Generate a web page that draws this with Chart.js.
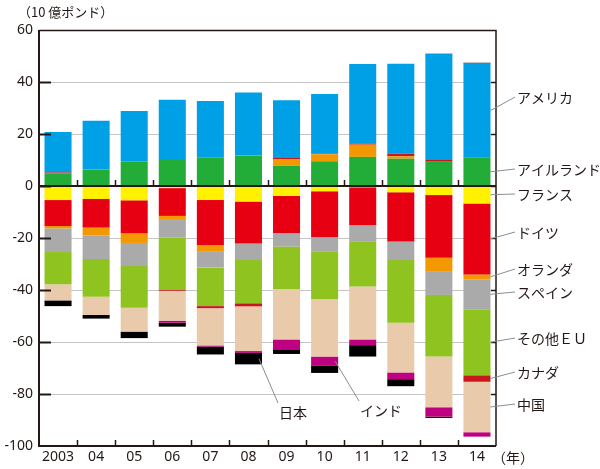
<!DOCTYPE html>
<html><head><meta charset="utf-8">
<script src="https://cdn.jsdelivr.net/npm/chart.js@4/dist/chart.umd.min.js"></script>
<style>html,body{margin:0;padding:0;background:#fff}#wrap{width:600px;height:469px;position:relative}</style>
</head><body><div id="wrap"><canvas id="c" width="600" height="469"></canvas></div>
<script>
const years = ['2003','04','05','06','07','08','09','10','11','12','13','14'];
const yTicks = [60,40,20,0,-20,-40,-60,-80,-100];
const ireland     = [4.9, 6.4, 9.3, 10.0, 11.0, 11.7, 7.8, 9.5, 11.2, 10.5, 9.6, 10.9];
const france      = [-5.4, -5.0, -5.5, -0.8, -5.4, -6.0, -3.8, -2.0, -0.5, -2.4, -3.5, -6.7];
const germany     = [-10.0, -11.0, -12.7, -10.7, -17.3, -16.1, -14.4, -17.7, -14.6, -18.9, -24.1, -27.3];
const netherlands = [-0.9, -3.0, -3.7, -1.2, -2.6, 0, 2.4, 2.7, 4.7, 0.9, -5.4, -1.9];
const spain       = [-9.1, -9.1, -8.9, -7.2, -6.0, -6.4, -5.1, -5.4, -6.4, -7.2, -8.9, -11.5];
const otherEU     = [-12.4, -14.5, -16.0, -20.1, -14.9, -16.6, -16.4, -18.5, -17.2, -24.1, -23.7, -25.4];
const canada      = [0.3, 0, 0, -0.3, -0.8, -1.2, 0.8, 0.2, 0.5, 1.0, 0.4, -2.5];
const china       = [-6.2, -7.0, -9.2, -11.5, -14.3, -17.2, -19.3, -22.0, -20.3, -19.1, -19.5, -19.4];
const india       = [0, 0, 0, -0.8, -0.5, -0.7, -3.8, -3.6, -2.2, -2.6, -3.6, -1.7];
const america     = [15.6, 18.7, 19.5, 23.2, 21.7, 24.3, 22.0, 23.0, 30.5, 34.6, 41.0, 36.2];
const japan       = [-2.2, -1.4, -2.5, -1.5, -3.0, -4.4, -1.8, -2.7, -4.4, -2.7, -0.5, 0.3];

const series = [
  {name:'アイルランド', data:ireland, color:'#22ac38'},
  {name:'フランス', data:france, color:'#fff100'},
  {name:'ドイツ', data:germany, color:'#e60012'},
  {name:'オランダ', data:netherlands, color:'#f39800'},
  {name:'スペイン', data:spain, color:'#aaaaaa'},
  {name:'その他ＥＵ', data:otherEU, color:'#8fc31f'},
  {name:'カナダ', data:canada, color:'#c9171e'},
  {name:'中国', data:china, color:'#e9cbab'},
  {name:'インド', data:india, color:'#be0081'},
  {name:'アメリカ', data:america, color:'#00a0e6'},
  {name:'日本', data:japan, color:'#000000'}
];

// right-side labels: [series name, text center y]
const rightLabels = [['アメリカ',98],['アイルランド',170],['フランス',195],['ドイツ',233],['オランダ',270],['スペイン',293],['その他ＥＵ',339],['カナダ',373],['中国',405]];
// inner labels: [series name, year index, text x, text center y]
const innerLabels = [['日本',5,279,413],['インド',7,360,411]];

const JP = '"Noto Sans CJK JP", sans-serif';

function segMid(name, idx){
  let pos=0, neg=0;
  for (const s of series){
    const v = s.data[idx];
    if (s.name===name){ return v>=0 ? pos+v/2 : neg+v/2; }
    if (v>=0) pos+=v; else neg+=v;
  }
  return 0;
}

const framePlugin = {
  id:'frame',
  beforeDatasetsDraw(chart){
    const {ctx, chartArea:a, scales:{y}} = chart;
    ctx.save();
    ctx.strokeStyle='#c4c4c4'; ctx.lineWidth=1;
    for (const t of yTicks){
      if (t===60||t===0||t===-100) continue;
      const py=Math.round(y.getPixelForValue(t))+0.5;
      ctx.beginPath(); ctx.moveTo(a.left,py); ctx.lineTo(a.right,py); ctx.stroke();
    }
    ctx.restore();
  },
  afterDatasetsDraw(chart){
    const {ctx, chartArea:a, scales:{x,y}} = chart;
    ctx.save();
    ctx.strokeStyle='#231815';
    ctx.lineWidth=1.5;
    ctx.beginPath(); ctx.moveTo(a.left,a.top+0.5); ctx.lineTo(a.right,a.top+0.5); ctx.lineTo(a.right,a.bottom); ctx.stroke();
    ctx.lineWidth=2;
    ctx.beginPath(); ctx.moveTo(a.left,a.top); ctx.lineTo(a.left,a.bottom); ctx.lineTo(a.right,a.bottom); ctx.stroke();
    const y0=y.getPixelForValue(0);
    ctx.beginPath(); ctx.moveTo(a.left,y0); ctx.lineTo(a.right,y0); ctx.stroke();
    ctx.lineWidth=1.5;
    const step=(a.right-a.left)/years.length;
    for (let i=1;i<years.length;i++){
      const px=Math.round(a.left+i*step)+0.5;
      ctx.beginPath(); ctx.moveTo(px,y0); ctx.lineTo(px,y0-6); ctx.stroke();
      ctx.beginPath(); ctx.moveTo(px,a.bottom); ctx.lineTo(px,a.bottom-6); ctx.stroke();
    }
    for (const t of yTicks){
      if (t===60||t===-100) continue;
      const py=Math.round(y.getPixelForValue(t))+0.5;
      ctx.lineWidth=2;
      ctx.beginPath(); ctx.moveTo(a.left,py); ctx.lineTo(a.left+12,py); ctx.stroke();
      ctx.lineWidth=1.5;
      ctx.beginPath(); ctx.moveTo(a.right,py); ctx.lineTo(a.right-5,py); ctx.stroke();
    }
    ctx.fillStyle='#231815';
    ctx.font='13px '+JP; ctx.textBaseline='middle'; ctx.textAlign='left';
    ctx.fillText('（10 億ポンド）',18,12);
    ctx.font='14px '+JP;
    ctx.fillText('（年）',492,458);
    const last=years.length-1;
    const meta0=chart.getDatasetMeta(0);
    const barRight=meta0.data[last].x+meta0.data[last].width/2;
    ctx.strokeStyle='#8c8c8c'; ctx.lineWidth=1;
    for (const [name,ty] of rightLabels){
      const sy=y.getPixelForValue(segMid(name,last));
      ctx.beginPath(); ctx.moveTo(barRight,sy); ctx.lineTo(515,ty-1); ctx.stroke();
      ctx.fillText(name,517,ty);
    }
    for (const [name,idx,tx,ty] of innerLabels){
      const sy=y.getPixelForValue(segMid(name,idx));
      const bx=meta0.data[idx].x+meta0.data[idx].width/2-3;
      ctx.beginPath(); ctx.moveTo(bx,sy); ctx.lineTo(tx-1,ty-10); ctx.stroke();
      ctx.fillText(name,tx,ty);
    }
    ctx.restore();
  }
};

new Chart(document.getElementById('c'), {
  type:'bar',
  data:{
    labels:years,
    datasets:series.map(s=>({label:s.name,data:s.data,backgroundColor:s.color,borderWidth:0,barPercentage:0.71,categoryPercentage:1}))
  },
  options:{
    responsive:false, animation:false,
    layout:{padding:{left:0,right:104,top:30,bottom:0}},
    plugins:{legend:{display:false},tooltip:{enabled:false}},
    scales:{
      x:{stacked:true, grid:{display:false,drawTicks:false}, border:{display:false},
         ticks:{color:'#231815',font:{size:14,family:'"Noto Sans", sans-serif'},padding:3,maxRotation:0},
         afterFit(s){s.height=23;}},
      y:{stacked:true, min:-100, max:60, grid:{display:false,drawTicks:false}, border:{display:false},
         ticks:{stepSize:20,color:'#231815',font:{size:14,family:'"Noto Sans", sans-serif'},padding:6},
         afterFit(s){s.width=39;}}
    }
  },
  plugins:[framePlugin]
});
</script></body></html>
